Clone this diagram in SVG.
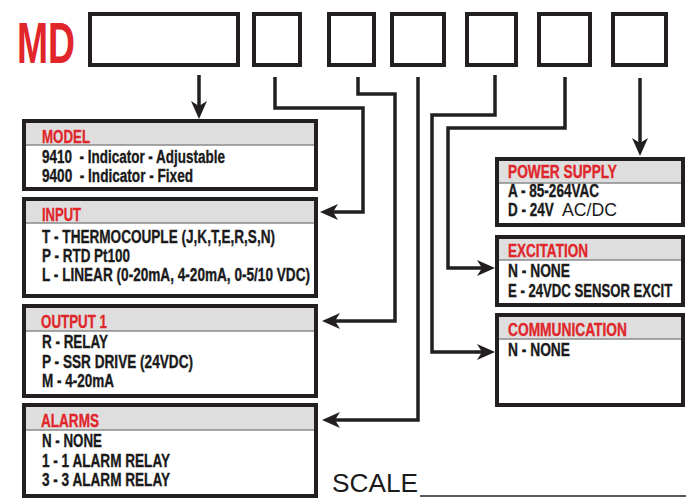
<svg xmlns="http://www.w3.org/2000/svg" width="686" height="498" viewBox="0 0 686 498">
<defs>
<style>
.box{fill:#fff;stroke:#231f20;stroke-width:4}
.hdr{fill:#dedede}
.sep{stroke:#8a8a8a;stroke-width:1.5}
.slot{fill:#fff;stroke:#231f20;stroke-width:4}
.t{font-family:"Liberation Sans",Arial,sans-serif;font-weight:bold;font-size:18px;fill:#1a1a1a;stroke:#1a1a1a;stroke-width:0.35}
.h{font-family:"Liberation Sans",Arial,sans-serif;font-weight:bold;font-size:18px;fill:#e0262a;stroke:#e0262a;stroke-width:0.35}
.r{font-family:"Liberation Sans",Arial,sans-serif;font-size:18px;fill:#1a1a1a}
.conn{fill:none;stroke:#231f20;stroke-width:3.5;stroke-linejoin:miter}
</style>
<marker id="arr" markerUnits="userSpaceOnUse" markerWidth="20" markerHeight="18" viewBox="0 0 20 18" refX="8" refY="9" orient="auto" overflow="visible">
<path d="M0,1 L18,9 L0,17 L5,9 Z" fill="#231f20"/>
</marker>
</defs>
<rect width="686" height="498" fill="#fff"/>

<g id="title">
<text x="17" y="63" font-family="Liberation Sans,Arial,sans-serif" font-weight="bold" font-size="57" fill="#e0262a" textLength="58" lengthAdjust="spacingAndGlyphs">MD</text>
</g>

<g id="slots">
<rect class="slot" x="90" y="14" width="148" height="51"/>
<rect class="slot" x="254" y="14" width="46" height="51"/>
<rect class="slot" x="329" y="14" width="45" height="51"/>
<rect class="slot" x="392" y="14" width="52" height="51"/>
<rect class="slot" x="467" y="14" width="49" height="51"/>
<rect class="slot" x="539" y="14" width="51" height="51"/>
<rect class="slot" x="613" y="14" width="53" height="51"/>
</g>

<g id="connectors">
<path class="conn" d="M199,75 V109" marker-end="url(#arr)"/>
<path class="conn" d="M275,77 V108 H363 V212 H330" marker-end="url(#arr)"/>
<path class="conn" d="M358,77 V94 H395 V321 H332" marker-end="url(#arr)"/>
<path class="conn" d="M418,77 V420 H332" marker-end="url(#arr)"/>
<path class="conn" d="M495,75 V115 H432 V352 H485" marker-end="url(#arr)"/>
<path class="conn" d="M565,77 V128 H448 V268 H485" marker-end="url(#arr)"/>
<path class="conn" d="M640,78 V146" marker-end="url(#arr)"/>
</g>

<g id="model">
<rect class="box" x="24" y="121" width="292" height="68"/>
<rect class="hdr" x="26" y="123" width="288" height="22"/>
<line class="sep" x1="26" y1="145" x2="314" y2="145"/>
<text class="h" x="42" y="143" textLength="48" lengthAdjust="spacingAndGlyphs">MODEL</text>
<text class="t" x="42" y="163" textLength="183" lengthAdjust="spacingAndGlyphs" xml:space="preserve">9410  - Indicator - Adjustable</text>
<text class="t" x="42" y="182" textLength="151" lengthAdjust="spacingAndGlyphs" xml:space="preserve">9400  - Indicator - Fixed</text>
</g>

<g id="input">
<rect class="box" x="24" y="199" width="292" height="97"/>
<rect class="hdr" x="26" y="201" width="288" height="22"/>
<line class="sep" x1="26" y1="223" x2="314" y2="223"/>
<text class="h" x="42" y="221" textLength="39" lengthAdjust="spacingAndGlyphs">INPUT</text>
<text class="t" x="42" y="243" textLength="233" lengthAdjust="spacingAndGlyphs">T - THERMOCOUPLE (J,K,T,E,R,S,N)</text>
<text class="t" x="42" y="262" textLength="88" lengthAdjust="spacingAndGlyphs">P - RTD Pt100</text>
<text class="t" x="42" y="281" textLength="268" lengthAdjust="spacingAndGlyphs">L - LINEAR (0-20mA, 4-20mA, 0-5/10 VDC)</text>
</g>

<g id="output1">
<rect class="box" x="24" y="306" width="292" height="90"/>
<rect class="hdr" x="26" y="308" width="288" height="23"/>
<line class="sep" x1="26" y1="331" x2="314" y2="331"/>
<text class="h" x="41" y="328" textLength="66" lengthAdjust="spacingAndGlyphs">OUTPUT 1</text>
<text class="t" x="42" y="348" textLength="66" lengthAdjust="spacingAndGlyphs">R - RELAY</text>
<text class="t" x="42" y="368" textLength="151" lengthAdjust="spacingAndGlyphs">P - SSR DRIVE (24VDC)</text>
<text class="t" x="42" y="387" textLength="72" lengthAdjust="spacingAndGlyphs">M - 4-20mA</text>
</g>

<g id="alarms">
<rect class="box" x="24" y="405" width="292" height="91"/>
<rect class="hdr" x="26" y="407" width="288" height="23"/>
<line class="sep" x1="26" y1="430" x2="314" y2="430"/>
<text class="h" x="41" y="427" textLength="58" lengthAdjust="spacingAndGlyphs">ALARMS</text>
<text class="t" x="42" y="447" textLength="60" lengthAdjust="spacingAndGlyphs">N - NONE</text>
<text class="t" x="42" y="467" textLength="128" lengthAdjust="spacingAndGlyphs">1 - 1 ALARM RELAY</text>
<text class="t" x="42" y="486" textLength="128" lengthAdjust="spacingAndGlyphs">3 - 3 ALARM RELAY</text>
</g>

<g id="power-supply">
<rect class="box" x="497" y="159" width="186" height="66"/>
<rect class="hdr" x="499" y="161" width="182" height="22"/>
<line class="sep" x1="499" y1="183" x2="681" y2="183"/>
<text class="h" x="508" y="178" textLength="109" lengthAdjust="spacingAndGlyphs">POWER SUPPLY</text>
<text class="t" x="508" y="197" textLength="91" lengthAdjust="spacingAndGlyphs">A - 85-264VAC</text>
<text class="t" transform="translate(508,216) scale(0.75,1)">D - 24V</text>
<text class="r" x="562" y="216" textLength="55" lengthAdjust="spacingAndGlyphs">AC/DC</text>
</g>

<g id="excitation">
<rect class="box" x="497" y="237" width="186" height="68"/>
<rect class="hdr" x="499" y="239" width="182" height="21"/>
<line class="sep" x1="499" y1="260" x2="681" y2="260"/>
<text class="h" x="508" y="257" textLength="80" lengthAdjust="spacingAndGlyphs">EXCITATION</text>
<text class="t" x="508" y="277" textLength="62" lengthAdjust="spacingAndGlyphs">N - NONE</text>
<text class="t" transform="translate(508,297) scale(0.73,1)">E - 24VDC SENSOR EXCIT</text>
</g>

<g id="communication">
<rect class="box" x="497" y="315" width="186" height="90"/>
<rect class="hdr" x="499" y="317" width="182" height="22"/>
<line class="sep" x1="499" y1="339" x2="681" y2="339"/>
<text class="h" x="508" y="336" textLength="119" lengthAdjust="spacingAndGlyphs">COMMUNICATION</text>
<text class="t" x="508" y="356" textLength="62" lengthAdjust="spacingAndGlyphs">N - NONE</text>
</g>

<g id="scale">
<text x="332" y="492" font-family="Liberation Sans,Arial,sans-serif" font-size="26" fill="#1a1a1a" textLength="86" lengthAdjust="spacingAndGlyphs">SCALE</text>
<line x1="420" y1="496" x2="686" y2="496" stroke="#231f20" stroke-width="1.5"/>
</g>
</svg>
